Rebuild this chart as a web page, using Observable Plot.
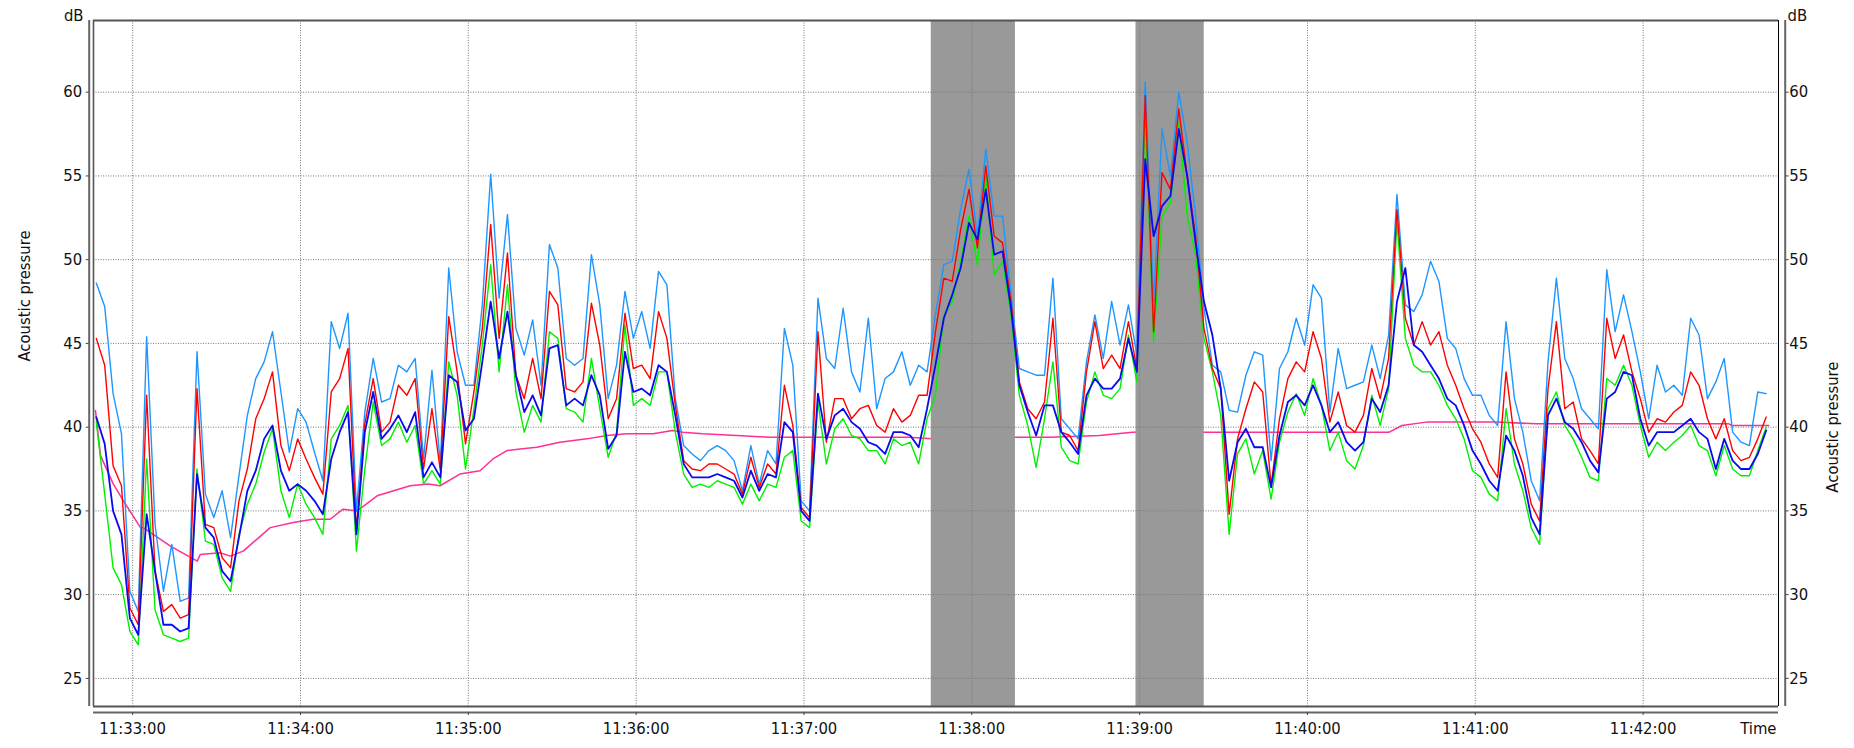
<!DOCTYPE html>
<html><head><meta charset="utf-8">
<script src="https://cdn.jsdelivr.net/npm/d3@7"></script>
<script src="https://cdn.jsdelivr.net/npm/@observablehq/plot@0.6"></script>
<style>
html,body{margin:0;padding:0;background:#fff;}
#chart svg{display:block;}
</style></head><body><div id="chart"></div>
<script>
// ---- data ----
const xTickLabels = ["11:33:00","11:34:00","11:35:00","11:36:00","11:37:00","11:38:00","11:39:00","11:40:00","11:41:00","11:42:00"];
const yTicks = [25,30,35,40,45,50,55,60];
const viewStart = "11:32:46";
const viewEnd = "11:42:48.4";
const sampleStart = "11:32:47";
const sampleStepSeconds = 3;

// light blue
const seriesMax = [
48.6,47.2,42.0,39.6,30.2,29.0,45.4,34.2,30.2,33.0,
29.6,29.8,44.5,36.0,34.6,36.2,33.4,37.1,40.7,42.9,
43.9,45.7,42.1,38.5,41.1,40.3,38.5,36.8,46.3,44.7,
46.8,35.0,40.9,44.1,41.5,41.7,43.7,43.3,44.1,38.1,
43.4,37.8,49.5,44.5,42.5,42.5,47.3,55.1,47.7,52.7,
45.9,44.3,46.4,42.5,50.9,49.5,44.1,43.7,44.1,50.3,
47.3,41.7,43.7,48.1,45.3,46.9,44.7,49.3,48.5,41.7,
38.9,38.4,38.0,38.6,38.9,38.6,38.0,36.2,38.9,36.6,
38.6,37.8,45.9,43.7,35.6,35.0,47.7,44.1,43.5,47.1,
43.3,42.1,46.5,41.1,42.9,43.3,44.5,42.5,43.7,43.3,
46.7,49.7,49.9,53.0,55.4,51.4,56.6,52.6,52.6,47.9,
43.5,43.3,43.1,43.1,48.9,40.5,39.9,39.3,43.9,46.7,
44.1,47.5,44.9,47.3,44.3,60.6,47.5,57.8,55.0,60.0,
57.0,52.6,47.1,43.7,43.3,41.0,40.9,43.1,44.5,44.3,
38.0,43.5,44.5,46.5,44.9,48.5,47.7,40.9,44.7,42.3,
42.5,42.7,44.9,42.9,45.5,53.9,47.3,46.9,47.9,49.9,
48.7,45.3,44.7,42.9,41.9,41.9,40.7,40.1,46.3,41.7,
39.7,36.8,35.6,43.9,48.9,44.1,42.9,41.1,40.5,39.9,
49.4,45.7,47.9,45.7,43.3,40.5,43.7,42.1,42.5,41.9,
46.5,45.5,41.7,42.7,44.1,39.7,39.1,38.9,42.1,42.0];

// red
const seriesFast = [
45.3,43.7,37.7,36.5,29.2,28.2,41.9,31.4,29.0,29.4,
28.6,28.8,42.3,34.2,34.0,32.2,31.6,35.6,37.5,40.5,
41.7,43.3,38.9,37.4,39.3,38.1,37.0,36.0,42.1,42.9,
44.7,33.8,40.2,42.9,39.7,40.3,42.5,41.9,42.9,37.5,
41.1,37.4,46.6,43.3,39.0,42.1,45.9,52.1,45.3,50.4,
43.1,41.7,44.1,41.7,48.1,47.3,42.3,42.1,42.7,47.4,
44.9,40.5,41.7,46.8,43.5,43.7,42.9,46.9,45.3,41.3,
38.0,37.5,37.4,37.8,37.8,37.5,37.2,36.0,38.2,36.4,
37.8,37.2,42.5,40.1,35.2,34.6,45.7,39.1,41.7,41.7,
40.5,41.1,41.3,40.1,39.7,41.1,40.3,40.7,41.9,41.9,
45.7,48.9,48.7,51.8,54.2,50.7,55.6,51.4,51.0,47.5,
42.7,41.1,40.5,41.5,46.5,39.7,39.5,38.6,43.3,46.3,
43.5,44.3,43.5,46.3,43.5,59.8,45.7,55.2,54.2,59.0,
55.0,51.4,45.9,43.5,42.3,34.8,39.3,41.1,42.7,42.1,
36.5,40.5,42.9,43.9,43.3,45.7,44.1,40.3,42.1,40.1,
39.7,40.7,43.5,41.7,44.1,53.0,46.5,44.9,46.3,44.9,
45.7,43.7,42.5,41.1,39.9,39.1,37.8,37.0,43.3,39.3,
37.8,35.4,34.4,42.3,46.3,41.1,41.5,39.3,38.6,37.8,
46.5,44.1,45.5,43.3,41.7,39.7,40.5,40.3,40.9,41.3,
43.3,42.5,40.5,39.3,40.5,38.6,38.0,38.2,39.3,40.6];

// dark blue
const seriesSlow = [
40.6,39.0,35.0,33.6,28.6,27.6,34.8,31.4,28.2,28.2,
27.8,28.0,37.2,34.0,33.4,31.4,30.8,33.4,36.2,37.4,
39.3,40.1,37.4,36.2,36.6,36.2,35.6,34.8,38.1,39.7,
40.9,33.6,39.7,42.1,39.3,39.9,40.7,39.7,40.9,37.0,
37.9,37.0,43.1,42.7,39.8,40.5,43.9,47.5,44.1,46.9,
43.1,40.9,41.9,40.7,44.7,44.9,41.3,41.7,41.3,43.1,
41.9,38.7,39.5,44.5,42.1,42.3,41.9,43.7,43.3,40.7,
37.8,37.0,37.0,37.0,37.2,37.0,36.8,35.8,37.4,36.2,
37.2,37.0,40.3,39.7,35.0,34.4,42.0,39.3,40.7,41.1,
40.3,39.9,39.1,38.9,38.4,39.7,39.7,39.5,38.8,41.1,
43.7,46.5,47.9,49.5,52.2,51.2,54.2,50.3,50.5,47.1,
42.5,40.9,39.5,41.3,41.3,39.7,39.1,38.4,41.9,42.9,
42.3,42.3,42.9,45.3,43.3,56.0,51.4,53.2,53.8,57.8,
55.0,51.0,47.5,45.5,42.3,36.8,39.1,39.9,38.8,38.8,
36.4,39.5,41.5,41.9,41.3,42.5,41.3,39.7,40.3,39.1,
38.6,39.1,41.7,40.9,42.5,47.5,49.5,44.9,44.5,43.7,
42.9,41.7,41.3,40.1,38.6,37.8,36.8,36.2,39.5,38.6,
37.1,34.6,33.6,40.7,41.7,40.3,39.9,39.1,38.0,37.3,
41.7,42.1,43.3,43.1,40.5,38.9,39.7,39.7,39.7,40.1,
40.5,39.7,39.3,37.5,39.3,38.0,37.5,37.5,38.4,39.8];

// green
const seriesMin = [
40.3,36.0,31.6,30.6,27.8,27.0,38.1,29.1,27.6,27.4,
27.2,27.4,37.5,33.2,33.0,31.0,30.2,33.6,35.4,36.6,
38.5,39.9,36.2,34.6,36.6,35.4,34.6,33.6,39.3,40.1,
41.3,32.6,37.5,41.5,38.9,39.3,40.3,39.1,40.1,36.6,
37.4,36.6,43.9,41.9,37.5,41.1,44.9,49.7,43.3,48.5,
42.1,39.7,41.3,40.3,45.7,45.3,41.1,40.9,40.3,44.1,
41.1,38.2,39.7,46.1,41.3,41.7,41.3,43.3,43.3,39.7,
37.2,36.4,36.6,36.4,36.8,36.6,36.4,35.4,36.6,35.6,
36.6,36.4,38.2,38.6,34.4,34.0,41.5,37.8,39.9,40.5,
39.5,39.3,38.6,38.6,37.8,39.3,38.9,39.1,37.8,40.5,
41.9,46.7,47.5,49.9,52.6,49.7,55.0,49.1,49.9,46.7,
41.9,40.1,37.6,40.5,43.9,38.8,38.0,37.8,41.5,43.3,
41.9,41.7,42.3,45.5,42.7,58.8,45.1,52.6,53.4,58.2,
52.6,50.3,45.3,43.3,40.7,33.6,38.4,39.3,37.2,38.6,
35.7,39.1,40.9,42.0,40.7,42.9,41.3,38.6,39.7,38.0,
37.5,38.9,41.9,40.1,42.3,52.3,45.3,43.7,43.3,43.3,
42.5,41.3,40.5,39.3,37.4,37.0,36.0,35.6,41.1,37.8,
36.2,34.0,33.0,41.1,42.1,40.1,39.3,38.2,37.0,36.8,
42.9,42.5,43.7,42.5,40.1,38.2,39.1,38.6,39.1,39.5,
40.1,38.9,38.6,37.1,38.9,37.5,37.1,37.1,38.6,40.0];

// pink running average: seconds after 11:33:00, and values
const leqSeconds = [-13.3,-11.5,-6.9,-3.3,2.8,3.8,13.5,23.1,24.2,31.3,34.9,39.5,49.2,57.4,64.5,70.6,75.2,80.3,87.4,99.2,105.6,109.9,117,124.2,128.8,133.8,138.5,144.5,152.7,162.4,169.5,176.7,186,193.1,196.7,203.8,216,227.7,239.5,277.7,285.6,316,327.7,345.6,357.4,383.8,413.5,449.2,453.8,462.4,487.4,501.7,570.6,571.7,584.9];
const leqValues = [41.0,38.3,36.6,35.6,34.0,34.0,32.9,32.0,32.4,32.5,32.3,32.6,34.0,34.3,34.5,34.5,35.1,35.0,35.9,36.5,36.6,36.5,37.2,37.4,38.1,38.6,38.7,38.8,39.1,39.3,39.5,39.6,39.6,39.8,39.7,39.6,39.5,39.4,39.4,39.4,39.3,39.4,39.4,39.5,39.7,39.7,39.7,39.7,40.1,40.3,40.3,40.2,40.2,40.1,40.1];

const shadedStarts = ["11:37:45.5","11:38:58.7"];
const shadedEnds = ["11:38:15.6","11:39:23.1"];

// ---- helpers ----
function parseClock(s) {
  const [h, m, sec] = s.split(":").map(Number);
  return new Date(Date.UTC(2000, 0, 1, h, m, 0) + sec * 1000);
}
const t0 = parseClock(sampleStart).getTime();
const ref = parseClock("11:33:00").getTime();
const timeAt = i => new Date(t0 + i * sampleStepSeconds * 1000);

const seriesDefs = [
  {values: seriesMax, color: "#1e96ff", width: 1.4},
  {values: seriesMin, color: "#00f000", width: 1.4},
  {values: seriesFast, color: "#ff0000", width: 1.4},
  {values: seriesSlow, color: "#0a0aee", width: 1.8}
];
const rows = seriesDefs.map(d => d.values.map((v, i) => ({t: timeAt(i), v})));
const leqRows = leqSeconds.map((s, i) => ({t: new Date(ref + s * 1000), v: leqValues[i]}));
const bands = shadedStarts.map((s, i) => ({a: parseClock(s), b: parseClock(shadedEnds[i])}));
const xTicks = xTickLabels.map(parseClock);

const x0 = parseClock(viewStart), x1 = parseClock(viewEnd);
const yMin = 23.32, yMax = 64.28;
const fmt = d3.utcFormat("%H:%M:%S");
const FS = 16.5;

const chart = Plot.plot({
  width: 1854, height: 748,
  marginLeft: 93, marginRight: 76, marginTop: 20, marginBottom: 42,
  x: {type: "utc", domain: [x0, x1]},
  y: {domain: [yMin, yMax]},
  style: {fontFamily: "'DejaVu Sans Condensed', 'DejaVu Sans', sans-serif", fontStretch: "condensed", fontSize: FS + "px", color: "#111", background: "#fff"},
  marks: [
    Plot.line(leqRows, {x: "t", y: "v", stroke: "#ff2f95", strokeWidth: 1.5}),
    Plot.rect(bands, {x1: "a", x2: "b", fill: "#999999"}),
    Plot.gridX(xTicks, {stroke: "#777", strokeOpacity: 1, strokeDasharray: "1,1.5"}),
    Plot.gridY(yTicks, {stroke: "#777", strokeOpacity: 1, strokeDasharray: "1,1.5"}),
    ...rows.map((r, k) => Plot.line(r, {x: "t", y: "v", stroke: seriesDefs[k].color, strokeWidth: seriesDefs[k].width})),
    // frame
    Plot.ruleY([yMax], {stroke: "#555", strokeWidth: 2}),
    Plot.ruleY([yMin], {stroke: "#555", strokeWidth: 2}),
    Plot.ruleX([x0], {stroke: "#555", strokeWidth: 1.6}),
    Plot.ruleX([x1], {stroke: "#000", strokeWidth: 1}),
    // axis lines
    Plot.ruleX([x0], {dx: -4.3, stroke: "#666", strokeWidth: 2}),
    Plot.ruleX([x1], {dx: 6.7, stroke: "#666", strokeWidth: 2}),
    Plot.ruleY([yMin], {dy: 6, stroke: "#666", strokeWidth: 2}),
    // axes
    Plot.axisY(yTicks, {anchor: "left", tickSize: 3, tickPadding: 4, dx: -4.3, stroke: "#444", label: null, fontSize: FS}),
    Plot.axisY(yTicks, {anchor: "right", tickSize: 3, tickPadding: 1, dx: 6.7, stroke: "#444", label: null, fontSize: FS}),
    Plot.axisX(xTicks, {anchor: "bottom", tickSize: 3, tickPadding: 7, dy: 6, stroke: "#444", tickFormat: fmt, label: null, fontSize: FS}),
    // labels
    Plot.text(["dB"], {frameAnchor: "top-left", dx: -10, dy: -5, textAnchor: "end", lineAnchor: "middle", fontSize: FS}),
    Plot.text(["dB"], {frameAnchor: "top-right", dx: 9, dy: -5, textAnchor: "start", lineAnchor: "middle", fontSize: FS}),
    Plot.text(["Acoustic pressure"], {frameAnchor: "left", dx: -69, dy: -2, rotate: -90, fontSize: FS}),
    Plot.text(["Acoustic pressure"], {frameAnchor: "right", dx: 54, dy: -2, rotate: -90, fontSize: FS}),
    Plot.text(["Time"], {frameAnchor: "bottom-right", dx: -2, dy: 22, textAnchor: "end", lineAnchor: "middle", fontSize: FS})
  ]
});
document.getElementById("chart").appendChild(chart);
</script>
</body></html>
